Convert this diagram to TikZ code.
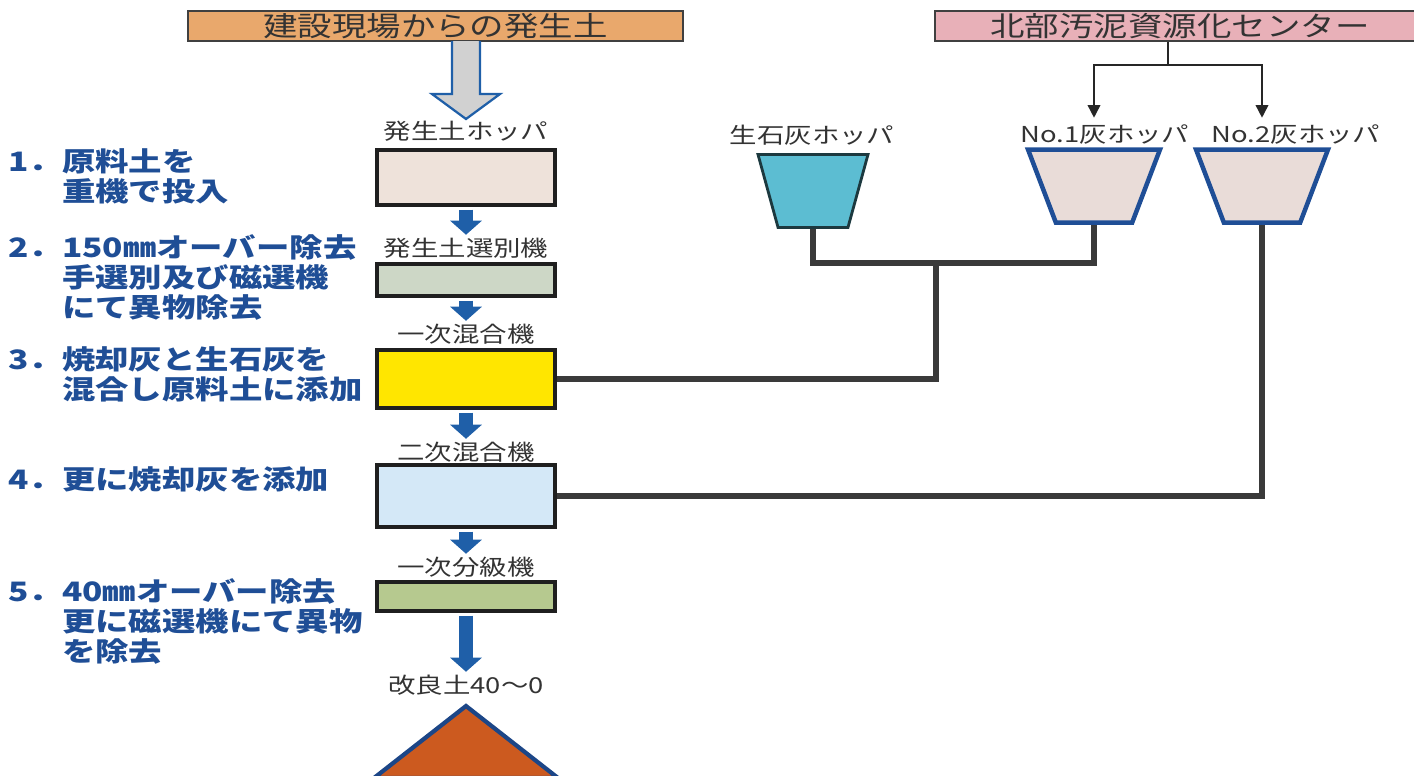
\documentclass[tikz,border=0pt]{standalone}
\usepackage{xcolor}
\usepackage{fontspec}
\setmainfont{Noto Sans CJK JP}[FakeStretch=1.25]
\usepackage{tikz}
\usetikzlibrary{shapes.geometric,arrows.meta,positioning,calc}
\definecolor{clrSoil}{HTML}{E9A86C}
\definecolor{clrSludge}{HTML}{E8B0B8}
\definecolor{clrHop}{HTML}{EEE2DA}
\definecolor{clrSel}{HTML}{CDD7C6}
\definecolor{clrMixA}{HTML}{FFE600}
\definecolor{clrMixB}{HTML}{D4E8F7}
\definecolor{clrCls}{HTML}{B6C98F}
\definecolor{clrLime}{HTML}{5CBDD2}
\definecolor{clrAsh}{HTML}{E9DCD8}
\definecolor{clrFlow}{HTML}{1F5FA8}
\definecolor{clrStep}{HTML}{1F4E96}
\definecolor{clrPile}{HTML}{CC5A1F}
\definecolor{clrPipe}{HTML}{3A3A3A}
\newcommand{\upx}{0.025cm}
\tikzset{
  srcbox/.style={rectangle, draw=black!75, line width=1.4pt, inner sep=0pt,
    minimum height=30*\upx, text=black!80,
    font=\fontsize{19.6}{21}\selectfont},
  unit/.style={rectangle, draw=black!88, line width=2.5pt,
    minimum width=178*\upx},
  unitlbl/.style={inner sep=0pt, text=black!80,
    font=\fontsize{15.6}{18}\selectfont},
  hopper/.style={trapezium, trapezium stretches=true, shape border rotate=180,
    minimum height=73*\upx},
  stepnote/.style={anchor=north west, align=left, inner sep=0pt, text=clrStep,
    font=\fontsize{19}{21.5}\selectfont\bfseries},
  flow/.style={-{Triangle[width=22pt, length=10pt]}, line width=9.5pt,
    draw=clrFlow, shorten <=2pt, shorten >=2pt},
  pipe/.style={line width=3.6pt, draw=clrPipe},
  feedline/.style={line width=1.1pt, draw=black!85},
}

\begin{document}
\begin{tikzpicture}[x=0.025cm, y=-0.025cm]
\useasboundingbox (0,0) rectangle (1414,776);

% --- Zufuhr ---------------------------------------------------------------
\node[srcbox, fill=clrSoil, minimum width=495*\upx] (src1) at (435.5,26)
  {建設現場からの発生土};
\node[srcbox, fill=clrSludge, minimum width=490*\upx] (src2) at (1180,26)
  {北部汚泥資源化センター};

\coordinate (feed) at (466,41);
\draw[draw=clrFlow, line width=1.6pt, fill=black!18, line join=miter]
  (feed) ++(-14,0) -- ++(0,53) -- ++(-20,0) -- (466,119) -- (500,94)
  -- ++(-20,0) -- ++(0,-53);

% --- Hauptstrang ----------------------------------------------------------
\node[unitlbl] (hoplbl) at (466,131) {発生土ホッパ};
\node[unit, fill=clrHop, minimum height=55*\upx] (hop) at (466,177.5) {};
\node[unitlbl] (sellbl) at (466,248) {発生土選別機};
\node[unit, fill=clrSel, minimum height=32*\upx] (sel) at (466,280) {};
\node[unitlbl] (mixAlbl) at (466,334) {一次混合機};
\node[unit, fill=clrMixA, minimum height=58*\upx] (mixA) at (466,379) {};
\node[unitlbl] (mixBlbl) at (466,452) {二次混合機};
\node[unit, fill=clrMixB, minimum height=62*\upx] (mixB) at (466,496) {};
\node[unitlbl] (clslbl) at (466,567) {一次分級機};
\node[unit, fill=clrCls, minimum height=29*\upx] (cls) at (466,596.5) {};
\node[unitlbl] (outlbl) at (466,685) {改良土40〜0};

\draw[flow] (hop.south) -- (sellbl.north);
\draw[flow] (sel.south) -- (mixAlbl.north);
\draw[flow] (mixA.south) -- (mixBlbl.north);
\draw[flow] (mixB.south) -- (clslbl.north);
\draw[flow] (cls.south) -- (outlbl.north);

\draw[draw=clrStep!90!black, line width=3pt, fill=clrPile]
  (466,706) -- (374,778) -- (558,778) -- cycle;

% --- Zusatzstoffe ---------------------------------------------------------
\node[unitlbl] (limelbl) at (812,135) {生石灰ホッパ};
\node[unitlbl] (ash1lbl) at (1105,135) {No.1灰ホッパ};
\node[unitlbl] (ash2lbl) at (1296,135) {No.2灰ホッパ};
\node[hopper, draw=black!70!clrLime, line width=2pt, fill=clrLime,
  minimum width=110*\upx, trapezium angle=74] (lime) at (813,191) {};
\node[hopper, draw=clrStep, line width=3.2pt, fill=clrAsh,
  minimum width=132*\upx, trapezium angle=70] (ash1) at (1094,186) {};
\node[hopper, draw=clrStep, line width=3.2pt, fill=clrAsh,
  minimum width=132*\upx, trapezium angle=70] (ash2) at (1262,186) {};

\coordinate (split) at (1168,65);
\draw[feedline] (src2.south -| split) -- (split);
\draw[feedline, -{Triangle[width=9pt, length=9pt]}, shorten >=21pt]
  (split) -| (ash1.north);
\draw[feedline, -{Triangle[width=9pt, length=9pt]}, shorten >=21pt]
  (split) -| (ash2.north);

\coordinate (jn) at (936,263);
\draw[pipe] (lime.south) |- (jn) -| (ash1.south);
\draw[pipe] (jn) |- (mixA.east);
\draw[pipe] (ash2.south) |- (mixB.east);

% --- Arbeitsschritte ------------------------------------------------------
\node[stepnote] (s1) at (8,148) {1．原料土を\\\phantom{1．}重機で投入};
\node[stepnote] (s2) at (8,234)
  {2．150㎜オーバー除去\\\phantom{2．}手選別及び磁選機\\\phantom{2．}にて異物除去};
\node[stepnote] (s3) at (8,346)
  {3．焼却灰と生石灰を\\\phantom{3．}混合し原料土に添加};
\node[stepnote] (s4) at (8,466) {4．更に焼却灰を添加};
\node[stepnote] (s5) at (8,578)
  {5．40㎜オーバー除去\\\phantom{5．}更に磁選機にて異物\\\phantom{5．}を除去};

\end{tikzpicture}
\end{document}
